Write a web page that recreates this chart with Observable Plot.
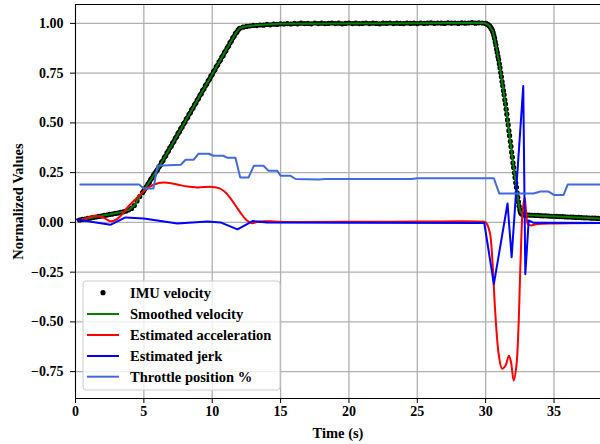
<!DOCTYPE html>
<html>
<head>
<meta charset="utf-8">
<script src="https://cdn.jsdelivr.net/npm/d3@7"></script>
<script src="https://cdn.jsdelivr.net/npm/@observablehq/plot@0.6"></script>
<style>
  html, body { margin: 0; padding: 0; background: white; }
  svg { display: block; }
</style>
</head>
<body>
<div id="chart"></div>
<script>
// ---- Axis settings ----
const xDomain = [0, 38.4];
const yDomain = [-0.885, 1.095];
const xTicks = [0, 5, 10, 15, 20, 25, 30, 35];
const yTicks = [-0.75, -0.5, -0.25, 0, 0.25, 0.5, 0.75, 1.0];
const xLabel = "Time (s)";
const yLabel = "Normalized Values";

// ---- Series names ----
const seriesNames = ["IMU velocity", "Smoothed velocity", "Estimated acceleration", "Estimated jerk", "Throttle position %"];
const seriesColors = ["black", "#008000", "#ff0000", "#0000ff", "#4169e1"];

// ---- IMU velocity samples [t, v] ----
const imuVelocity = [
  [0.3,.012],[0.5,.015],[0.7,.017],[0.9,.020],[1.1,.022],[1.3,.025],[1.5,.027],[1.7,.030],[1.9,.032],[2.1,.035],
  [2.3,.037],[2.5,.040],[2.7,.042],[2.9,.045],[3.1,.047],[3.3,.050],[3.5,.053],[3.7,.057],[3.9,.063],[4.1,.070],
  [4.3,.085],[4.5,.108],[4.7,.130],[4.9,.150],
  [5.0,.160],[5.1,.171],[5.2,.180],[5.3,.193],[5.4,.202],[5.5,.215],[5.6,.224],[5.7,.237],[5.8,.246],[5.9,.257],
  [6.0,.265],[6.1,.279],[6.2,.287],[6.3,.303],[6.4,.311],[6.5,.327],[6.6,.335],[6.7,.351],[6.8,.359],[6.9,.375],
  [7.0,.383],[7.1,.399],[7.2,.407],[7.3,.423],[7.4,.431],[7.5,.447],[7.6,.455],[7.7,.471],[7.8,.479],[7.9,.495],
  [8.0,.503],[8.1,.519],[8.2,.527],[8.3,.543],[8.4,.551],[8.5,.567],[8.6,.575],[8.7,.591],[8.8,.599],[8.9,.615],
  [9.0,.623],[9.1,.639],[9.2,.647],[9.3,.663],[9.4,.671],[9.5,.687],[9.6,.695],[9.7,.711],[9.8,.719],[9.9,.735],
  [10.0,.743],[10.1,.759],[10.2,.767],[10.3,.783],[10.4,.791],[10.5,.807],[10.6,.815],[10.7,.831],[10.8,.839],[10.9,.855],
  [11.0,.863],[11.1,.879],[11.2,.887],[11.3,.903],[11.4,.911],[11.5,.927],[11.6,.935],[11.7,.950],[11.8,.956],[11.9,.968],
  [12.0,.975],[12.25,.981],[12.5,.985],[12.75,.987],[13.0,.990],[13.25,.989],[13.5,.992],[13.75,.991],[14.0,.995],[14.25,.993],
  [14.5,.996],[14.75,.995],[15.0,.998],[15.25,.997],[15.5,.999],[15.75,.997],[16.0,1.0],[16.25,.998],[16.5,1.001],[16.75,.999],
  [17.0,1.0],[17.25,.998],[17.5,1.002],[17.75,.999],[18.0,1.001],[18.25,.999],[18.5,1.0],[18.75,1.002],[19.0,.999],[19.25,1.001],
  [19.5,.998],[19.75,1.0],[20.0,1.002],[20.25,.999],[20.5,1.001],[20.75,.999],[21.0,1.0],[21.25,1.002],[21.5,.999],[21.75,1.001],
  [22.0,1.0],[22.25,.998],[22.5,1.001],[22.75,1.0],[23.0,1.002],[23.25,.999],[23.5,1.001],[23.75,1.0],[24.0,.999],[24.25,1.002],
  [24.5,1.0],[24.75,1.001],[25.0,.999],[25.25,1.002],[25.5,1.0],[25.75,1.001],[26.0,1.003],[26.25,1.0],[26.5,1.002],[26.75,1.001],
  [27.0,1.0],[27.25,1.003],[27.5,1.001],[27.75,1.002],[28.0,1.0],[28.25,1.003],[28.5,1.001],[28.75,1.002],[29.0,1.004],[29.25,1.001],
  [29.5,1.003],[29.75,1.002],
  [30.0,1.0],[30.05,.998],[30.1,.997],[30.15,.994],[30.2,.993],[30.25,.989],[30.3,.986],[30.35,.982],[30.4,.975],[30.45,.971],
  [30.5,.962],[30.55,.953],[30.6,.939],[30.65,.926],[30.7,.907],[30.75,.891],[30.8,.871],[30.85,.854],[30.9,.834],[30.95,.818],
  [31.0,.797],[31.05,.777],[31.1,.753],[31.15,.732],[31.2,.708],[31.25,.687],[31.3,.662],[31.35,.641],[31.4,.616],[31.45,.595],
  [31.5,.569],[31.55,.544],[31.6,.515],[31.65,.490],[31.7,.461],[31.75,.436],[31.8,.407],[31.85,.382],[31.9,.353],[31.95,.328],
  [32.0,.299],[32.05,.276],[32.1,.249],[32.15,.226],[32.2,.199],[32.25,.176],[32.3,.149],[32.35,.126],[32.4,.103],[32.45,.081],
  [32.5,.063],[32.55,.051],[32.6,.045],[32.65,.042],[32.7,.040],[32.75,.039],[32.8,.039],[32.85,.038],[32.9,.038],[32.95,.037],
  [33.0,.037],[33.2,.037],[33.4,.036],[33.6,.035],[33.8,.035],[34.0,.034],[34.2,.033],[34.4,.033],[34.6,.032],[34.8,.031],
  [35.0,.031],[35.2,.030],[35.4,.029],[35.6,.029],[35.8,.028],[36.0,.027],[36.2,.027],[36.4,.026],[36.6,.025],[36.8,.025],
  [37.0,.024],[37.2,.023],[37.4,.023],[37.6,.022],[37.8,.021],[38.0,.021],[38.2,.020],[38.4,.019]
];

// ---- Smoothed velocity [t, v] ----
const smoothedVelocity = [
  [0.3,.012],[3.5,.053],[3.9,.063],[4.3,.085],[4.7,.130],[5.0,.160],[5.5,.213],[6.0,.265],[11.6,.937],[11.8,.958],
  [12.0,.975],[12.3,.983],[13,.990],[14,.995],[15,.998],[20,1.0],[25,1.001],[29.7,1.003],[30.0,1.0],[30.3,.986],
  [30.5,.963],[30.7,.908],[31.0,.798],[31.5,.570],[32.0,.300],[32.3,.150],[32.45,.080],[32.55,.052],[32.7,.041],[33.0,.037],
  [34,.033],[36,.027],[38.4,.019]
];

// ---- Estimated acceleration [t, a] ----
const estAcceleration = [
  [0.3,.010],[0.8,.022],[1.3,.032],[1.8,.030],[2.2,.018],[2.6,.006],[3.0,.015],[3.4,.040],[3.8,.075],[4.3,.110],
  [4.8,.145],[5.3,.175],[5.8,.192],[6.4,.200],[7.0,.197],[7.6,.188],[8.2,.180],[8.8,.176],[9.4,.178],[10.0,.178],
  [10.5,.172],[10.9,.155],[11.3,.125],[11.7,.085],[12.1,.045],[12.5,.012],[12.9,-.004],[13.3,.003],[13.8,.006],[14.5,.005],
  [15.5,.002],[17,.002],[20,.003],[25,.004],[29.5,.004],[30.0,.0],[30.3,-.05],[30.5,-.2],[30.7,-.45],[30.95,-.66],
  [31.2,-.735],[31.45,-.72],[31.7,-.67],[31.85,-.70],[32.05,-.795],[32.25,-.72],[32.4,-.53],[32.55,-.2],[32.7,.05],[32.85,.125],
  [32.95,.06],[33.1,-.01],[33.3,-.015],[33.8,-.008],[35,-.005],[38.4,-.003]
];

// ---- Estimated jerk [t, j] ----
const estJerk = [
  [0.1,.015],[2.55,-.012],[3.65,.025],[5.0,.020],[7.45,-.005],[9.65,.005],[10.6,.0],[11.85,-.035],[12.95,.007],[14,.0],
  [20,-.002],[29.9,-.003],[30.6,-.31],[31.6,.095],[31.9,-.175],[32.75,.685],[32.9,-.26],[33.15,.01],[33.5,-.002],[38.4,-.003]
];

// ---- Throttle position [t, p] ----
const throttle = [
  [0.35,.19],[4.65,.19],[5.0,.17],[5.7,.17],[6.0,.285],[7.7,.29],[8.05,.315],[8.65,.315],[9.0,.345],[9.75,.345],
  [10.1,.335],[10.8,.335],[11.1,.325],[11.7,.325],[12.05,.225],[12.65,.225],[13.05,.285],[13.75,.285],[14.1,.26],[14.75,.26],
  [15.0,.235],[15.7,.235],[16.1,.218],[17.8,.215],[18.3,.218],[24.6,.218],[25.0,.222],[30.6,.222],[31.0,.145],[33.5,.145],
  [34.0,.155],[34.6,.155],[35.0,.138],[35.7,.138],[36.0,.19],[38.4,.19]
];

const FONT = "'Liberation Serif', 'Times New Roman', Times, serif";
const xy = {x: d => d[0], y: d => d[1]};

const chart = Plot.plot({
  width: 600,
  height: 444,
  marginLeft: 75,
  marginRight: 0,
  marginTop: 4,
  marginBottom: 46,
  style: {fontFamily: FONT, fontWeight: "bold", fontSize: "14px", background: "white", color: "black", overflow: "visible"},
  x: {domain: xDomain},
  y: {domain: yDomain},
  marks: [
    Plot.gridX(xTicks, {stroke: "#b0b0b0", strokeOpacity: 1, strokeWidth: 1.3}),
    Plot.gridY(yTicks, {stroke: "#b0b0b0", strokeOpacity: 1, strokeWidth: 1.3}),
    Plot.dot(imuVelocity, {...xy, r: 2.6, fill: seriesColors[0], stroke: "none"}),
    Plot.line(smoothedVelocity, {...xy, stroke: seriesColors[1], strokeWidth: 2}),
    Plot.line(estAcceleration, {...xy, stroke: seriesColors[2], strokeWidth: 2, curve: "catmull-rom"}),
    Plot.line(estJerk, {...xy, stroke: seriesColors[3], strokeWidth: 2}),
    Plot.line(throttle, {...xy, stroke: seriesColors[4], strokeWidth: 2}),
    Plot.ruleX([xDomain[0]], {stroke: "black", strokeWidth: 1}),
    Plot.ruleY(yDomain, {stroke: "black", strokeWidth: 1}),
    Plot.axisX({ticks: xTicks, tickSize: 5, tickPadding: 3, tickFormat: d => String(d), label: null}),
    Plot.axisY({ticks: yTicks, tickSize: 5, tickPadding: 7, tickFormat: d3.format(".2f"), label: null}),
    Plot.text([xLabel], {text: d => d, frameAnchor: "bottom", textAnchor: "middle", lineAnchor: "middle", dy: 35, fontSize: 14.5}),
    Plot.text([yLabel], {text: d => d, frameAnchor: "left", textAnchor: "middle", lineAnchor: "middle", dx: -57, rotate: -90, fontSize: 14.5})
  ]
});

// ---- Legend ----
const svg = d3.select(chart);
const lg = svg.append("g").attr("font-family", FONT).attr("font-weight", "bold")
  .attr("font-size", 14.5).attr("text-anchor", "start");
lg.append("rect").attr("x", 83).attr("y", 281).attr("width", 197).attr("height", 109)
  .attr("rx", 3).attr("fill", "white").attr("fill-opacity", 0.8).attr("stroke", "#cccccc");
const rowY = [292.7, 314, 335, 356, 376.7];
seriesNames.forEach((name, i) => {
  if (i === 0) {
    lg.append("circle").attr("cx", 103).attr("cy", rowY[i]).attr("r", 2.6).attr("fill", seriesColors[i]);
  } else {
    lg.append("line").attr("x1", 87).attr("x2", 119).attr("y1", rowY[i]).attr("y2", rowY[i])
      .attr("stroke", seriesColors[i]).attr("stroke-width", 2);
  }
  lg.append("text").attr("x", 130).attr("y", rowY[i]).attr("dy", "0.35em")
    .attr("text-anchor", "start").attr("fill", "black").text(name);
});

document.getElementById("chart").appendChild(chart);
</script>
</body>
</html>
